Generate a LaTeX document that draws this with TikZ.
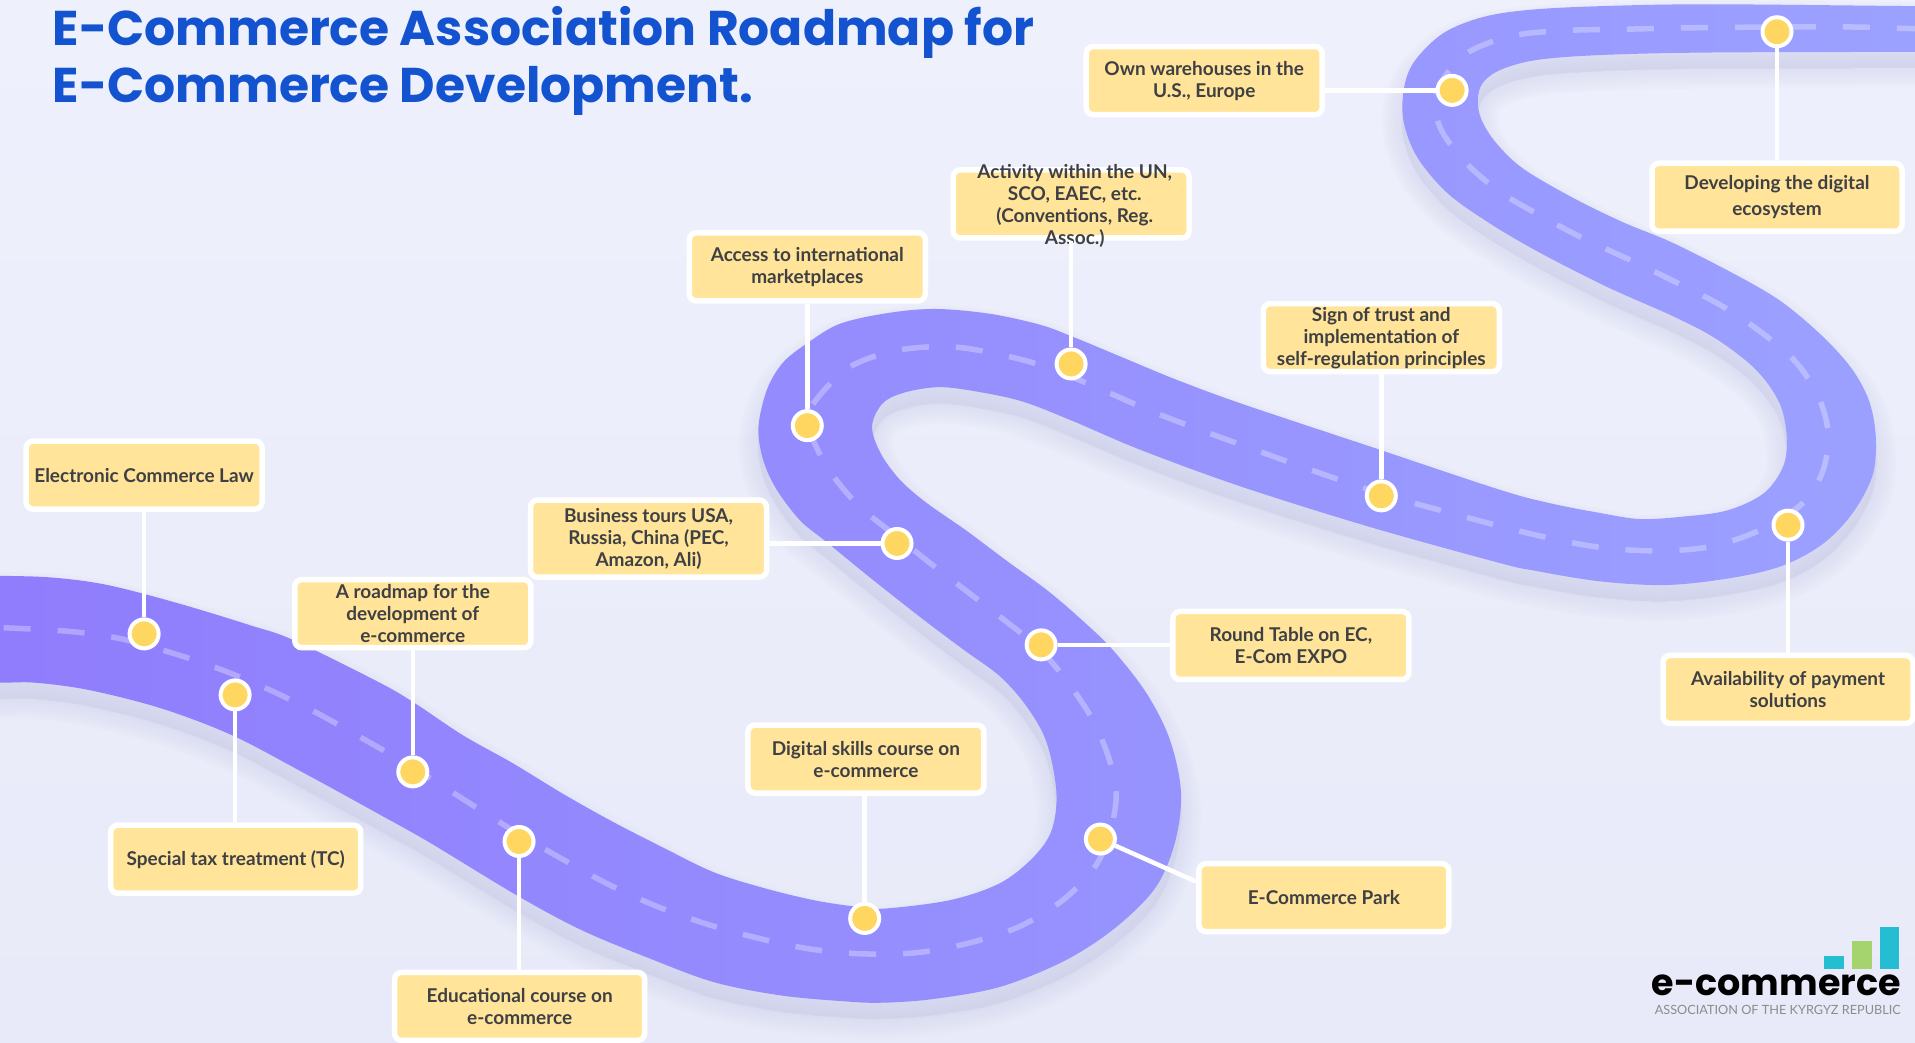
\documentclass[tikz,border=0pt]{standalone}
\usepackage{fontspec}
\setmainfont{Lato}
\newfontfamily\headfont{Poppins}
\usetikzlibrary{positioning}
\definecolor{backtop}{HTML}{EEF0FC}
\definecolor{backbot}{HTML}{E8EAF9}
\definecolor{roadleft}{HTML}{8F7BFD}
\definecolor{roadright}{HTML}{9CA3FF}
\definecolor{cardfill}{HTML}{FFE499}
\definecolor{pinfill}{HTML}{FFD65F}
\definecolor{inktext}{HTML}{3F4044}
\definecolor{headblue}{HTML}{1353D0}
\definecolor{barteal}{HTML}{24BDD1}
\definecolor{bargreen}{HTML}{A5D36E}
\definecolor{shadowtone}{HTML}{C4C7E6}
\def\roadedge{plot[smooth cycle,tension=0.55] coordinates {(-60,471.5) (0,471.5) (44,473) (88,479) (146,494) (205,512) (240,524) (311,559) (340,576) (379,602) (420,625) (461,650) (502,673) (543,694) (584,714) (625,727) (666,737) (698,742) (723,744) (778,737) (819,723) (846,702) (861,680) (865,649) (857,608) (841,579) (819,554) (789,532) (757,508) (715,475) (677,444) (655,426) (636,401) (625,377) (621,350) (628,319) (641,297) (661,281) (688,265) (729,256) (767,253) (811,257) (852,266) (879,276) (920,293) (961,310) (1015,330) (1120,365) (1228,401) (1269,412) (1310,420) (1343,425) (1378,423) (1414,418) (1444,404) (1460,382) (1463,358) (1457,330) (1438,303) (1406,278) (1370,259) (1316,235) (1261,207) (1220,183) (1185,158) (1160,128) (1149,98) (1150,70) (1159,49) (1182,27) (1214,14) (1253,8) (1312,5) (1400,3.5) (1568,5) (1630,5) (1630,42.5) (1568,42.5) (1400,43) (1312,45) (1259,49) (1229,57) (1214,68) (1210,82) (1213,98) (1225,117) (1247,138) (1288,162) (1329,182) (1370,199) (1425,227) (1460,248) (1493,276) (1517,303) (1531,330) (1536,360) (1533,390) (1517,420) (1493,445) (1460,463) (1419,473) (1365,479) (1310,476) (1255,467) (1228,461) (1120,431) (1015,398) (933,368) (879,345) (838,329) (802,321) (770,317) (742,321) (723,330) (714,349) (721,371) (737,393) (759,412) (792,435) (824,459) (857,483) (884,506) (911,532) (939,568) (958,606) (967,649) (962,690) (946,727) (914,759) (873,786) (819,808) (764,818) (723,821) (693,820) (639,815) (584,804) (530,784) (475,761) (423,733) (352,690) (311,667) (249,633) (190,602) (132,580) (73,565) (29,559) (0,559) (-60,559)}}
\begin{document}
\begin{tikzpicture}[x=1.2213pt,y=-1.2213pt,
card/.style={draw=white,fill=cardfill,line width=5.5pt,rounded corners=7pt,minimum width=236pt,minimum height=68pt,inner sep=0pt,align=center,text=inktext,font=\fontsize{19}{22}\selectfont\bfseries},
widecard/.style={card,minimum width=250pt},
cardtext/.style={inner sep=0pt,align=center,text=inktext,font=\fontsize{19}{22}\selectfont\bfseries},
headline/.style={inner sep=0pt,anchor=base west,text=headblue,font=\fontsize{48.8}{57}\selectfont\headfont\bfseries},
pin/.style={circle,draw=white,fill=pinfill,line width=4pt,minimum size=29pt,inner sep=0pt},
link/.style={draw=white,line width=4.5pt},
bar/.style={inner sep=0pt,anchor=south west,minimum width=19.5pt}]

\useasboundingbox (0,0) rectangle (1568,854);
\clip (0,0) rectangle (1568,854);
\fill[top color=backtop,bottom color=backbot] (0,0) rectangle (1568,854);

%road
\begin{scope}[yshift=-16pt]
\foreach \w in {40,34,28,22,16,10,4}
  \path[draw=shadowtone,fill=shadowtone,line width=\w pt,line join=round,opacity=0.055] \roadedge;
\end{scope}
\path[left color=roadleft,right color=roadright] \roadedge;
\draw[white,opacity=0.3,line width=5.5pt,dash pattern=on 27pt off 27pt] plot[smooth,tension=0.55] coordinates {(3,514) (57,517) (99,523) (142,535) (183,549) (221,565) (258,583) (294,603) (327,622) (363,644) (396,665) (430,686) (465,706) (500,725) (540,743) (580,757) (620,768) (663,777) (706,781) (751,780) (794,772) (834,759) (869,738) (895,712) (908,685) (914,651) (908,621) (895,590) (876,561) (852,532) (824,509) (794,486) (764,463) (734,439) (704,415) (681,388) (667,363) (662,345) (667,329) (695,301) (734,287) (779,284) (822,291) (858,301) (902,319) (941,336) (980,351) (1013,363) (1060,380) (1100,394) (1140,407) (1180,418) (1225,430) (1266,440) (1309,448) (1354,451) (1398,448) (1439,435) (1475,413) (1492,387) (1497,356) (1489,325) (1470,296) (1442,272) (1409,250) (1372,231) (1335,213) (1298,196) (1262,177) (1228,157) (1199,132) (1179,104) (1176,76) (1199,45) (1238,29.5) (1282,25) (1327,24) (1372,23) (1417,22.4) (1506,22) (1551,23) (1580,24)};

\node[headline] (titleone) at (43,37) {E-Commerce Association Roadmap for};
\node[headline] (titletwo) at (43,84) {E-Commerce Development.};

\node[card] (boxlaw) at (118,389) {Electronic Commerce Law};
\node[card] (boxplan) at (338,502.5) {A roadmap for the\\development of\\e-commerce};
\node[widecard] (boxtax) at (193,703.5) {Special tax treatment (TC)};
\node[widecard] (boxcourse) at (425.5,824) {Educational course on\\e-commerce};
\node[card] (boxskills) at (709,621.5) {Digital skills course on\\e-commerce};
\node[card,minimum height=77pt] (boxtours) at (531,441) {Business tours USA,\\Russia, China (PEC,\\Amazon, Ali)};
\node[card] (boxmarket) at (661,218.5) {Access to international\\marketplaces};
\node[card] (boxun) at (877,167) {};
\node[cardtext] (textun) at (880,169) {Activity within the UN,\\SCO, EAEC, etc.\\(Conventions, Reg.\\Assoc.)};
\node[card] (boxstore) at (986,66) {Own warehouses in the\\U.S., Europe};
\node[card] (boxtrust) at (1131,276.5) {Sign of trust and\\implementation of\\self-regulation principles};
\node[card] (boxexpo) at (1057,528.5) {Round Table on EC,\\E-Com EXPO};
\node[widecard] (boxpark) at (1084,735) {E-Commerce Park};
\node[widecard] (boxeco) at (1455,161.5) {Developing the digital\\[4pt]ecosystem};
\node[widecard] (boxpay) at (1464,564.5) {Availability of payment\\solutions};

\node[pin] (pinlaw) at (118,519) {};
\node[pin] (pintax) at (192.5,569) {};
\node[pin] (pinplan) at (338,632) {};
\node[pin] (pincourse) at (425,689) {};
\node[pin] (pinskills) at (708,752) {};
\node[pin] (pinpark) at (901,687) {};
\node[pin] (pinexpo) at (852.5,528) {};
\node[pin] (pintours) at (734.5,445) {};
\node[pin] (pinmarket) at (661,348.5) {};
\node[pin] (pinun) at (877,298) {};
\node[pin] (pintrust) at (1131,406) {};
\node[pin] (pinstore) at (1189,74) {};
\node[pin] (pineco) at (1455,26) {};
\node[pin] (pinpay) at (1464,430) {};

\path (pinlaw) edge[link] (pinlaw |- boxlaw.south);
\path (pintax) edge[link] (pintax |- boxtax.north);
\path (pinplan) edge[link] (pinplan |- boxplan.south);
\path (pincourse) edge[link] (pincourse |- boxcourse.north);
\path (pinskills) edge[link] (pinskills |- boxskills.south);
\path (pinpark) edge[link] ([yshift=16pt]boxpark.west);
\path (pinexpo) edge[link] (pinexpo -| boxexpo.west);
\path (pintours) edge[link] (pintours -| boxtours.east);
\path (pinmarket) edge[link] (pinmarket |- boxmarket.south);
\path (pinun) edge[link] (pinun |- boxun.south);
\path (pintrust) edge[link] (pintrust |- boxtrust.south);
\path (pinstore) edge[link] (pinstore -| boxstore.east);
\path (pineco) edge[link] (pineco |- boxeco.north);
\path (pinpay) edge[link] (pinpay |- boxpay.north);

%logo
\node[bar,fill=barteal,minimum height=12.5pt] (barone) at (1493.5,793.5) {};
\node[bar,fill=bargreen,minimum height=27.5pt] (bartwo) at (1516.5,793.5) {};
\node[bar,fill=barteal,minimum height=42pt] (barthree) at (1539,793.5) {};
\node[inner sep=0pt,anchor=base east,text=black,font=\fontsize{36.5}{37}\selectfont\headfont\bfseries] (logoname) at (1556.5,815.5) {e-commerce};
\node[inner sep=0pt,anchor=base east,text=black!45,font=\fontsize{12.7}{13}\selectfont] (logotag) at (1556.5,831) {ASSOCIATION OF THE KYRGYZ REPUBLIC};
\end{tikzpicture}
\end{document}
